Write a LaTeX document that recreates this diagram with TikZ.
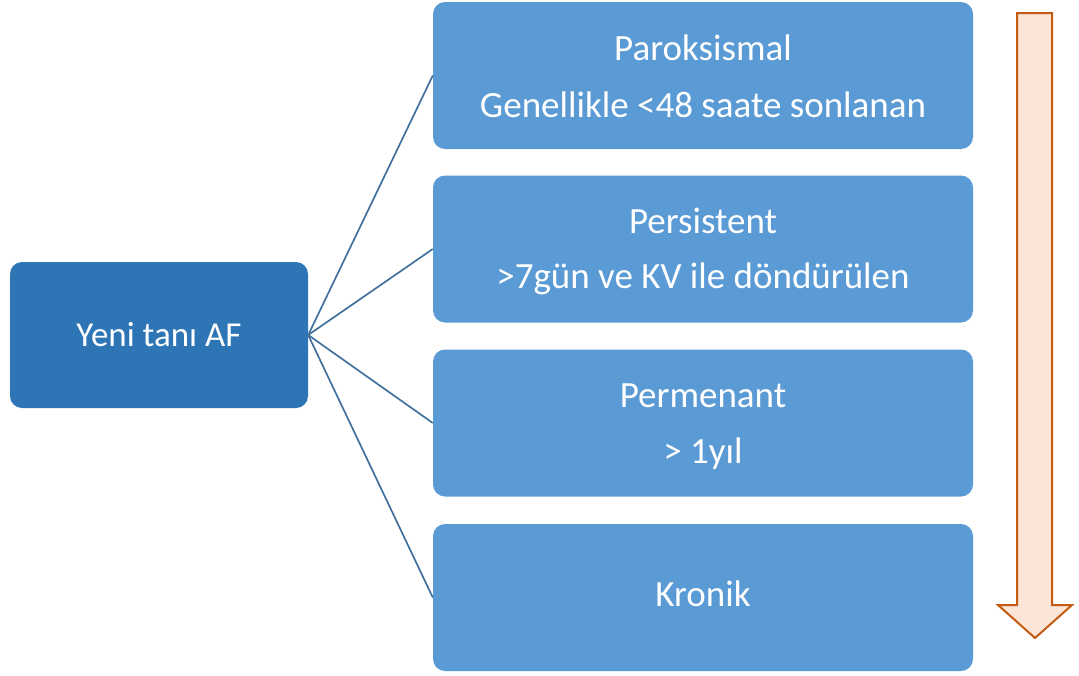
\documentclass[tikz,border=0pt]{standalone}
\usepackage{fontspec}
\setmainfont{Carlito}
\usetikzlibrary{calc}
\definecolor{darkbox}{HTML}{2E75B6}
\definecolor{lightbox}{HTML}{5B9BD5}
\definecolor{linkcol}{HTML}{41719C}
\definecolor{arrowfill}{HTML}{FBE5D6}
\definecolor{arrowdraw}{HTML}{C55A11}
\tikzset{
  basebox/.style={rectangle, rounded corners=12pt, inner sep=0pt, draw=none},
  leftbox/.style={basebox, fill=darkbox, minimum width=298pt, minimum height=146pt,
    text=white, font=\fontsize{35}{40}\selectfont},
  rightbox/.style={basebox, fill=lightbox, minimum width=540pt, minimum height=147pt},
  boxtext/.style={anchor=base, text=white, inner sep=0pt, font=\fontsize{37}{40}\selectfont},
  link/.style={draw=linkcol, line width=1.7pt},
}
\begin{document}
\begin{tikzpicture}[x=1pt,y=-1pt]
\useasboundingbox (0,0) rectangle (1079,675);
\node[leftbox] (yeni) at (159,335) {Yeni tanı AF};
\node[rightbox] (b1) at (703,75.5) {};
\node[rightbox] (b2) at (703,249) {};
\node[rightbox] (b3) at (703,423) {};
\node[rightbox] (b4) at (703,597.5) {};
\node[boxtext] (t1a) at ($(b1.center)+(0,-15.5)$) {Paroksismal};
\node[boxtext] (t1b) at ($(b1.center)+(0,42)$) {Genellikle <48 saate sonlanan};
\node[boxtext] (t2a) at ($(b2.center)+(0,-15.5)$) {Persistent};
\node[boxtext] (t2b) at ($(b2.center)+(0,39)$) {>7gün ve KV ile döndürülen};
\node[boxtext] (t3a) at ($(b3.center)+(0,-15.5)$) {Permenant};
\node[boxtext] (t3b) at ($(b3.center)+(0,40)$) {> 1yıl};
\node[boxtext] (t4a) at ($(b4.center)+(0,9)$) {Kronik};
\foreach \b in {b1,b2,b3,b4}{
  \draw[link] (yeni.east) -- (\b.west);
}
\draw[draw=arrowdraw, fill=arrowfill, line width=2pt, line join=miter]
  (1017,13) -- (1052,13) -- (1052,605) -- (1072,605) -- (1035,638)
  -- (998,605) -- (1017,605) -- cycle;
\end{tikzpicture}
\end{document}
